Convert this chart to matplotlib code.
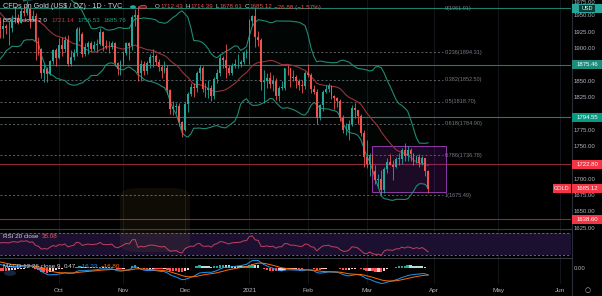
import numpy as np
import pandas as pd
import matplotlib
matplotlib.use("Agg")
import matplotlib.pyplot as plt
from matplotlib.patches import Rectangle, Circle, FancyBboxPatch

# ---------------- data (daily TVC:GOLD, Sep 1 2020 - Mar 30 2021) ----------------
# estimated closes before the visible window (Jul-Aug 2020), only used to warm up indicators
warmup_close = [1770, 1775, 1774, 1784, 1795, 1809, 1803, 1799, 1802, 1810, 1807, 1796, 1810,
                1817, 1842, 1871, 1888, 1902, 1941, 1958, 1970, 1957, 1975,
                1976, 2019, 2039, 2063, 2035, 2028, 1911, 1915, 1954, 1944, 1985, 2003, 1929,
                1946, 1940, 1929, 1908, 1953, 1930, 1965, 1968]

close = [1970, 1943, 1930, 1934, 1932, 1931, 1946, 1946, 1940, 1957, 1954, 1960, 1944, 1950, 1912, 1900, 1863, 1868, 1861, 1881, 1898, 1886,
         1906, 1900, 1913, 1877, 1887, 1893, 1930, 1922, 1892, 1902, 1908, 1900, 1905, 1907, 1925, 1904, 1902, 1902, 1908, 1878, 1868, 1879,
         1894, 1909, 1904, 1949, 1952, 1863, 1877, 1866, 1878, 1887, 1888, 1880, 1872, 1865, 1871, 1837, 1807, 1810, 1812, 1788, 1776,
         1815, 1830, 1841, 1839, 1863, 1870, 1838, 1836, 1840, 1827, 1854, 1862, 1886, 1882, 1871, 1862, 1873, 1876, 1877, 1880, 1893, 1895,
         1943, 1950, 1918, 1913, 1849, 1850, 1855, 1846, 1851, 1828, 1840, 1840, 1871, 1870, 1855, 1856, 1850, 1844, 1843, 1863,
         1860, 1838, 1834, 1793, 1814, 1834, 1838, 1842, 1827, 1824, 1819, 1794, 1775, 1775, 1784, 1809, 1806, 1797, 1770, 1734,
         1723, 1737, 1712, 1698, 1700, 1683, 1716, 1726, 1722, 1719, 1731, 1731, 1745, 1735, 1745, 1738, 1726, 1734, 1725, 1732, 1712, 1685.12]

high = [1992, 1972, 1949, 1946, 1937, 1943, 1951, 1966, 1953, 1962, 1966, 1973, 1963, 1959, 1955, 1918, 1901, 1877, 1872, 1883, 1900, 1901,
        1917, 1918, 1920, 1921, 1898, 1899, 1933, 1933, 1926, 1909, 1911, 1912, 1912, 1914, 1931, 1927, 1913, 1911, 1912, 1910, 1880, 1883,
        1896, 1910, 1910, 1951, 1960, 1965, 1883, 1881, 1881, 1892, 1899, 1891, 1884, 1875, 1881, 1875, 1838, 1819, 1817, 1816, 1789,
        1818, 1833, 1848, 1848, 1866, 1875, 1874, 1848, 1852, 1844, 1857, 1868, 1891, 1889, 1907, 1875, 1878, 1884, 1891, 1883, 1896, 1900,
        1945, 1952, 1961.91, 1927, 1917, 1867, 1863, 1864, 1860, 1855, 1843, 1850, 1871, 1875, 1870, 1867, 1859, 1853, 1852, 1866,
        1876, 1862, 1844, 1838, 1815, 1836, 1844, 1848, 1844, 1829, 1826, 1823, 1798, 1786, 1791, 1813, 1816, 1806, 1800, 1775,
        1760, 1740, 1738, 1722, 1708, 1714, 1719, 1732, 1739, 1729, 1734, 1740, 1748, 1755, 1750, 1748, 1740, 1737, 1738, 1736, 1732, 1714.39]

low = [1962, 1936, 1916, 1917, 1922, 1906, 1926, 1940, 1937, 1940, 1950, 1951, 1931, 1942, 1882, 1890, 1855, 1849, 1849, 1860, 1876, 1873,
       1884, 1889, 1895, 1873, 1873, 1882, 1889, 1912, 1887, 1888, 1891, 1895, 1896, 1897, 1905, 1896, 1899, 1894, 1899, 1873, 1860, 1859,
       1873, 1890, 1883, 1898, 1934, 1850, 1851, 1859, 1861, 1871, 1872, 1875, 1866, 1855, 1862, 1830, 1800, 1798, 1801, 1781, 1764,
       1773, 1803, 1828, 1826, 1833, 1852, 1833, 1826, 1825, 1820, 1823, 1848, 1858, 1870, 1855, 1859, 1860, 1870, 1870, 1872, 1876, 1886,
       1877, 1935, 1902, 1904, 1836, 1816, 1840, 1839, 1835, 1821, 1820, 1836, 1837, 1859, 1841, 1850, 1840, 1836, 1832, 1838,
       1856, 1832, 1831, 1785, 1791, 1804, 1832, 1834, 1823, 1808, 1810, 1789, 1771, 1768, 1760, 1781, 1793, 1784, 1766, 1718,
       1717, 1705, 1711, 1692, 1688, 1675.49, 1678, 1710, 1721, 1699, 1717, 1722, 1723, 1727, 1727, 1728, 1721, 1724, 1719, 1721, 1705, 1678.61]

last_open = 1712.43

month_labels = ["Oct", "Nov", "Dec", "2021", "Feb", "Mar", "Apr", "May", "Jun"]
price_ticks = [1975, 1950, 1925, 1900, 1850, 1825, 1775, 1750, 1700, 1675, 1650, 1625]

fib_ratios = [0, 0.236, 0.382, 0.5, 0.618, 0.786, 1]
fib_high, fib_low = 1961.91, 1675.49
hlines_teal = [1961.91, 1875.46, 1794.55]
hlines_red = [1722.80, 1638.60]
box_top, box_bottom = 1750.3, 1680.5

# ---------------- derived ----------------
opens = [warmup_close[-1]] + close[:-1]
opens[-1] = last_open
n = len(close)

all_close = pd.Series(warmup_close + close, dtype=float)
nw = len(warmup_close)
sma = all_close.rolling(20).mean()
sd = all_close.rolling(20).std(ddof=0)
bb_mid = sma.values[nw:]
bb_up = (sma + 2 * sd).values[nw:]
bb_lo = (sma - 2 * sd).values[nw:]

d = all_close.diff()
gain = d.clip(lower=0).ewm(alpha=1 / 20, adjust=False).mean()
loss = (-d.clip(upper=0)).ewm(alpha=1 / 20, adjust=False).mean()
rsi = (100 - 100 / (1 + gain / loss)).values[nw:]

ema12 = all_close.ewm(span=12, adjust=False).mean()
ema26 = all_close.ewm(span=26, adjust=False).mean()
macd = ema12 - ema26
sig = macd.ewm(span=9, adjust=False).mean()
hist = macd - sig
macd_v = macd.values[nw:]
sig_v = sig.values[nw:]
hist_v = hist.values[nw:]
histp_v = hist.shift(1).values[nw:]

# trading calendar (no bars on Dec 25 / Jan 1)
days = pd.bdate_range("2020-09-01", "2021-06-30")
days = days[~days.isin(pd.to_datetime(["2020-12-25", "2021-01-01"]))]
month_pos = []
prev_m = None
for i, dd in enumerate(days):
    key = (dd.year, dd.month)
    if key != prev_m:
        if not (dd.year == 2020 and dd.month == 9):
            month_pos.append(i)
        prev_m = key
month_pos = month_pos[:len(month_labels)]

# ---------------- figure ----------------
W, H = 602, 296
BG = "#000000"
TXT = "#b2b5be"
UP, DN = "#26a69a", "#ef5350"
FONT = ["Liberation Sans", "DejaVu Sans"]
plt.rcParams["font.family"] = FONT

fig = plt.figure(figsize=(W / 100, H / 100), dpi=100, facecolor=BG)
renderer = fig.canvas.get_renderer()

XMIN = 5.5 / 2.93
XMAX = XMIN + 571 / 2.93
YTOP, YBOT = 1974.5, 1623.5

def fy(p):
    return (YTOP - p) / (YTOP - YBOT) * 229

def ftext(x, y, s, color, size=4.6, ha="left", **kw):
    return fig.text(x / W, 1 - y / H, s, color=color, fontsize=size, ha=ha, va="center", **kw)

def seq(x, y, parts, size, gap=2.2):
    for s, color, g in parts:
        t = ftext(x, y, s, color, size, zorder=8)
        bb = t.get_window_extent(renderer)
        x = bb.x1 + g

def frect(x0, y0, w, h, fc, z=5, **kw):
    fig.patches.append(Rectangle((x0 / W, 1 - (y0 + h) / H), w / W, h / H,
                                 transform=fig.transFigure, facecolor=fc, edgecolor="none", zorder=z, **kw))

ax = fig.add_axes([0, 1 - 229 / H, 571 / W, 229 / H])
axr = fig.add_axes([0, 1 - 258 / H, 571 / W, 29 / H])
axm = fig.add_axes([0, 1 - 284 / H, 571 / W, 26 / H])
for a in (ax, axr, axm):
    a.set_facecolor(BG)
    a.set_xlim(XMIN, XMAX)
    a.set_xticks([])
    a.set_yticks([])
    for s in a.spines.values():
        s.set_visible(False)
    for p in month_pos:
        a.axvline(p, color="#15181f", lw=0.6, zorder=0)

x = np.arange(n)
ax.set_ylim(YBOT, YTOP)

# Bollinger bands
ax.fill_between(x, bb_lo, bb_up, color="#1b5e4f", alpha=0.07, lw=0, zorder=1)
ax.plot(x, bb_up, color="#1f8a72", lw=0.8, zorder=2)
ax.plot(x, bb_lo, color="#1f8a72", lw=0.8, zorder=2)
ax.plot(x, bb_mid, color="#9c2f3c", lw=0.8, zorder=2)

# fib levels
fib_end = 153
for r in fib_ratios:
    lvl = fib_high - r * (fib_high - fib_low)
    if r != 0:
        ax.plot([XMIN, fib_end], [lvl, lvl], color="#6a6d75", lw=0.6, ls=(0, (2.5, 2.5)), zorder=1.5)
    lab = f"{r:g}({lvl:.2f})"
    ax.text(fib_end + 0.6, lvl, lab, color="#787b86", fontsize=4.0, va="center", ha="left", zorder=6)

# horizontal lines
for p in hlines_teal:
    ax.axhline(p, color="#1e7d6c", lw=0.8, zorder=1.6)
for p in hlines_red:
    ax.axhline(p, color="#8e2c36", lw=0.8, zorder=1.6)

# rectangle
ax.add_patch(Rectangle((128.8, box_bottom), 154.1 - 128.8, box_top - box_bottom,
                       facecolor="#7b1fa2", alpha=0.22, edgecolor="none", zorder=1.7))
ax.add_patch(Rectangle((128.8, box_bottom), 154.1 - 128.8, box_top - box_bottom,
                       facecolor="none", edgecolor="#8e3aa6", lw=0.7, zorder=1.8))

# candles
cols = [UP if c >= o else DN for o, c in zip(opens, close)]
ax.vlines(x, low, high, colors=cols, lw=0.6, zorder=3)
bottoms = [min(o, c) for o, c in zip(opens, close)]
heights = [max(abs(c - o), 1.0) for o, c in zip(opens, close)]
ax.bar(x, heights, bottom=bottoms, width=0.62, color=cols, lw=0, zorder=4)

# RSI
axr.set_ylim(24.5, 77.3)
axr.axhspan(30, 70, color="#1c1030", zorder=0.5, lw=0)
axr.axhline(70, color="#787b86", lw=0.6, ls=(0, (2.5, 2.5)), zorder=1)
axr.axhline(30, color="#787b86", lw=0.6, ls=(0, (2.5, 2.5)), zorder=1)
axr.plot(x, rsi, color="#c2405f", lw=0.7, zorder=2)

# MACD
s = 0.42
axm.set_ylim(-16 / s, 10 / s)
hcols = []
for h, hp in zip(hist_v, histp_v):
    if h >= 0:
        hcols.append("#26a69a" if h > hp else "#b2dfdb")
    else:
        hcols.append("#ffcdd2" if h > hp else "#ff5252")
axm.bar(x, hist_v, width=0.8, color=hcols, lw=0, zorder=1)
axm.plot(x, macd_v, color="#2196f3", lw=0.7, zorder=2)
axm.plot(x, sig_v, color="#ff6d00", lw=0.7, zorder=2)

# watermark (faint logo)
fig.patches.append(FancyBboxPatch((120 / W, 1 - 252 / H), 70 / W, 64 / H,
                                  boxstyle="round,pad=0,rounding_size=0.03",
                                  transform=fig.transFigure, facecolor="#c8a040", alpha=0.08,
                                  edgecolor="none", zorder=9))
fig.patches.append(Circle((10 / W, 1 - 273 / H), 6 / W, transform=fig.transFigure,
                          facecolor="#1d3557", alpha=0.7, edgecolor="none", zorder=9))

# separators
fig.add_artist(plt.Line2D([0, 571 / W], [1 - 229 / H] * 2, color="#363a45", lw=0.8, transform=fig.transFigure))
fig.add_artist(plt.Line2D([0, 571 / W], [1 - 258 / H] * 2, color="#363a45", lw=0.8, transform=fig.transFigure))
fig.add_artist(plt.Line2D([571.5 / W] * 2, [0, 1], color="#2a2e39", lw=0.8, transform=fig.transFigure))

# price axis labels
for p in price_ticks:
    yy = max(fy(p), 3)
    ftext(574, yy, f"{p:.2f}", TXT, size=4.3)

def plabel(p, s, fc, tc="white"):
    y = fy(p)
    frect(572, y - 4.5, 30, 9, fc)
    ftext(587, y, s, tc, size=4.3, ha="center", zorder=7)

plabel(1961.91, "", "#26a69a")
frect(579, fy(1961.91) - 3.5, 16, 7, "#0b3d35", z=6)
ftext(587, fy(1961.91), "USD", "white", size=4.0, ha="center", zorder=7)
plabel(1875.46, "1875.46", "#1e8c7a")
plabel(1794.55, "1794.55", "#089981")
plabel(1722.80, "1722.80", "#f23645")
plabel(1685.12, "1685.12", "#f23645")
frect(553, fy(1685.12) - 4.5, 18, 9, "#f23645")
ftext(562, fy(1685.12), "GOLD", "white", size=4.0, ha="center", zorder=7)
plabel(1638.60, "1638.60", "#f23645")
ftext(574, 268, "0.00", TXT, size=4.3)

# date axis
for p, lab in zip(month_pos, month_labels):
    xp = (p - XMIN) * 2.93
    ftext(xp, 290.5, lab, TXT, size=4.6, ha="center")
ftext(588, 290, "\u25cb", TXT, size=5, ha="center", family="DejaVu Sans")

# legends
ftext(3, 7, "CFDs on Gold (US$ / OZ) \u00b7 1D \u00b7 TVC", "#d1d4dc", size=5.2)
fig.patches.append(Circle((133 / W, 1 - 7 / H), 2.2 / W, transform=fig.transFigure,
                          color="#26a69a", zorder=5))
fig.patches.append(Circle((143 / W, 1 - 7 / H), 3.5 / W, transform=fig.transFigure,
                          facecolor="#5a1f26", edgecolor="#ef5350", lw=0.5, zorder=5))
seq(155, 7, [("O", "#d1d4dc", 0.3), ("1712.43", "#ef5350", 2.5),
             ("H", "#d1d4dc", 0.3), ("1714.39", "#ef5350", 2.5),
             ("L", "#d1d4dc", 0.3), ("1678.61", "#ef5350", 2.5),
             ("C", "#d1d4dc", 0.3), ("1685.12", "#ef5350", 2.5),
             ("\u221226.88 (\u22121.57%)", "#ef5350", 0)], size=4.5)

seq(3, 21, [("BB 20 close 2 0", "#d1d4dc", 5), ("1721.14", "#b03a48", 3),
            ("1756.53", "#1f9e84", 3), ("1685.76", "#1f9e84", 0)], size=4.5)
seq(3, 237, [("RSI 20 close", "#d1d4dc", 3), ("35.08", "#ef5350", 0)], size=4.5)
seq(3, 267, [("MACD 12 26 close 9", "#d1d4dc", 3), ("0.47", "#d1d4dc", 3),
             ("\u221216.33", "#2196f3", 3), ("\u221216.80", "#ff6d00", 0)], size=4.5)

fig.savefig("out.png", dpi=100, facecolor=BG)
